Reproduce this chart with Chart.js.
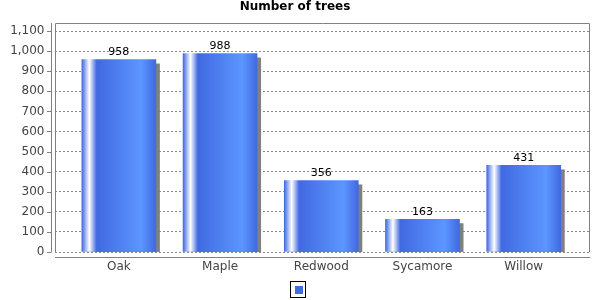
<!DOCTYPE html>
<html>
<head>
<meta charset="utf-8">
<script src="https://cdn.jsdelivr.net/npm/chart.js@4/dist/chart.umd.min.js"></script>
<style>
html,body{margin:0;padding:0;background:#fff;}
#wrap{width:600px;height:300px;}
</style>
</head>
<body>
<div id="wrap"><canvas id="c" width="600" height="300"></canvas></div>
<script>
const categories = ['Oak', 'Maple', 'Redwood', 'Sycamore', 'Willow'];
const treeCounts = [958, 988, 356, 163, 431];
const yTickValues = [0, 100, 200, 300, 400, 500, 600, 700, 800, 900, 1000, 1100];
const chartTitle = 'Number of trees';

const BASE = '#4169E1';
const BRIGHT = '#5C96FF';
const BAR_W = 74;
const FONT = "'DejaVu Sans', sans-serif";

const barPoints = categories.map((c, i) => ({ x: i, y: treeCounts[i] }));

const deco = {
  id: 'deco',
  beforeDraw(chart) {
    const ctx = chart.ctx;
    ctx.save();
    ctx.fillStyle = '#fff';
    ctx.fillRect(0, 0, chart.width, chart.height);
    ctx.restore();
  },
  beforeDatasetsDraw(chart) {
    const ctx = chart.ctx, a = chart.chartArea;
    const meta = chart.getDatasetMeta(0);
    ctx.save();
    ctx.beginPath();
    ctx.rect(a.left, a.top, a.right - a.left, a.bottom - a.top);
    ctx.clip();
    ctx.fillStyle = '#808080';
    meta.data.forEach(el => {
      const left = el.x - el.width / 2;
      ctx.fillRect(left + 4, el.y + 4, el.width, el.base - el.y);
    });
    ctx.restore();
  },
  afterDatasetsDraw(chart) {
    const ctx = chart.ctx;
    const meta = chart.getDatasetMeta(0);
    ctx.save();
    ctx.fillStyle = '#000';
    ctx.font = '11px ' + FONT;
    ctx.textAlign = 'center';
    ctx.textBaseline = 'alphabetic';
    meta.data.forEach((el, i) => {
      ctx.fillText(String(treeCounts[i]), el.x, el.y - 4.5);
    });
    ctx.restore();
  },
  afterDraw(chart) {
    const ctx = chart.ctx, a = chart.chartArea, ys = chart.scales.y;
    ctx.save();
    ctx.strokeStyle = '#808080';
    ctx.lineWidth = 1;
    ctx.beginPath();
    ctx.moveTo(a.left + 0.5, a.bottom);
    ctx.lineTo(a.left + 0.5, a.top + 0.5);
    ctx.lineTo(a.right - 0.5, a.top + 0.5);
    ctx.lineTo(a.right - 0.5, a.bottom);
    ctx.stroke();
    ctx.beginPath();
    ctx.moveTo(51.5, a.top);
    ctx.lineTo(51.5, a.bottom);
    ctx.stroke();
    ys.ticks.forEach(t => {
      const y = Math.round(ys.getPixelForValue(t.value)) + 0.5;
      ctx.beginPath();
      ctx.moveTo(47, y);
      ctx.lineTo(51.5, y);
      ctx.stroke();
    });
    ctx.beginPath();
    ctx.moveTo(a.left, Math.round(a.bottom) + 5.5);
    ctx.lineTo(a.right, Math.round(a.bottom) + 5.5);
    ctx.stroke();
    ctx.strokeStyle = '#000';
    ctx.strokeRect(290.5, 281.5, 15, 16);
    ctx.fillStyle = BASE;
    ctx.fillRect(295, 286, 8, 8);
    ctx.restore();
  }
};

new Chart(document.getElementById('c'), {
  type: 'bar',
  data: {
    datasets: [{
      label: '',
      data: barPoints,
      barThickness: BAR_W,
      borderWidth: 0,
      backgroundColor(ctx) {
        const chart = ctx.chart;
        const xs = chart.scales && chart.scales.x;
        if (!xs || ctx.type !== 'data' || xs.width === undefined) return BASE;
        const cx = xs.getPixelForValue(ctx.dataIndex);
        const l = cx - BAR_W / 2;
        const g = chart.ctx.createLinearGradient(l, 0, l + BAR_W, 0);
        g.addColorStop(0, BASE);
        g.addColorStop(0.1, '#ffffff');
        g.addColorStop(0.2, BASE);
        g.addColorStop(0.8, BRIGHT);
        g.addColorStop(1, BASE);
        return g;
      }
    }]
  },
  options: {
    responsive: false,
    animation: false,
    events: [],
    layout: { padding: { left: 0, right: 10, top: 0, bottom: 0 } },
    plugins: {
      legend: { display: false },
      tooltip: { enabled: false },
      title: {
        display: true,
        text: chartTitle,
        color: '#000',
        font: { family: FONT, size: 12, weight: 'bold', lineHeight: 1.2 },
        padding: { top: 0, bottom: 8.6 }
      }
    },
    scales: {
      x: {
        type: 'linear',
        offset: false,
        min: -0.631,
        max: 4.655,
        grid: { display: false, drawTicks: false, offset: false },
        border: { display: false },
        afterBuildTicks(scale) {
          scale.ticks = categories.map((c, i) => ({ value: i }));
        },
        afterFit(scale) { scale.height = 48; },
        ticks: {
          autoSkip: false,
          maxRotation: 0,
          padding: 8,
          color: '#444',
          font: { family: FONT, size: 12 },
          callback(v) { return categories[v] !== undefined ? categories[v] : ''; }
        }
      },
      y: {
        min: 0,
        max: 1140,
        afterBuildTicks(scale) {
          scale.ticks = yTickValues.map(v => ({ value: v }));
        },
        afterFit(scale) { scale.width = 55; },
        border: { display: false, dash: [2, 2] },
        grid: {
          drawTicks: false,
          color: '#888',
          lineWidth: 1
        },
        ticks: {
          padding: 10.5,
          color: '#444',
          font: { family: FONT, size: 12 },
          callback(v) { return v.toLocaleString('en-US'); }
        }
      }
    }
  },
  plugins: [deco]
});
</script>
</body>
</html>
